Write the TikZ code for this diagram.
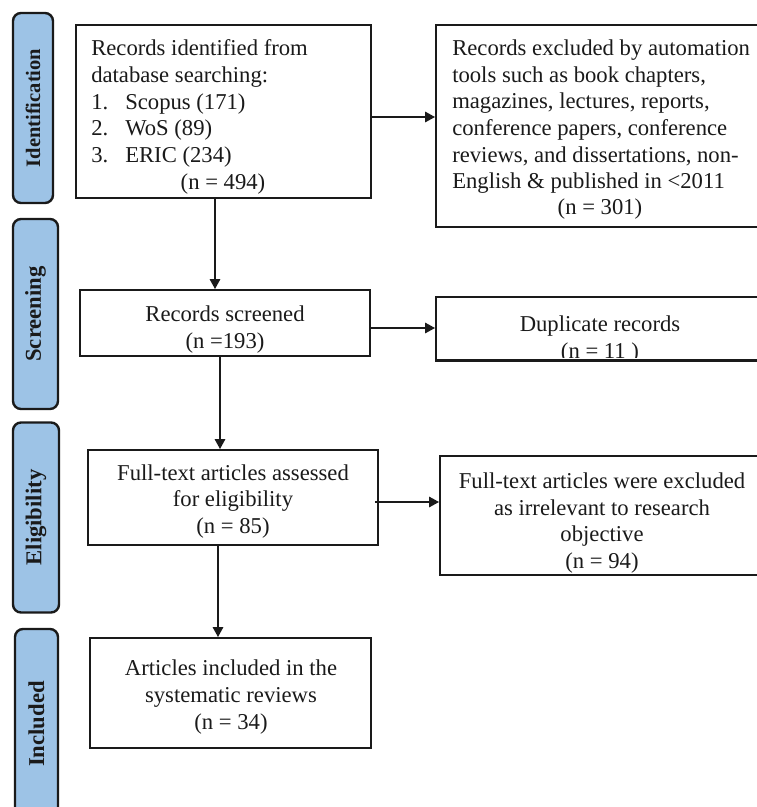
\documentclass[tikz,border=0pt]{standalone}
\usepackage{fontspec}
\setmainfont{Liberation Serif}
\usetikzlibrary{arrows.meta}
\definecolor{barblue}{HTML}{9DC3E6}
\definecolor{ink}{HTML}{1A1A1A}
\begin{document}
\begin{tikzpicture}[x=0.75pt,y=-0.75pt,
  box/.style={draw=ink, line width=1.5pt, fill=white, inner sep=0pt, rectangle},
  bar/.style={draw=ink, line width=1.8pt, fill=barblue, rounded corners=6pt,
     rotate=90, inner sep=0pt, font=\fontsize{17}{20}\selectfont\bfseries, text=ink},
  txt/.style={inner sep=0pt, font=\fontsize{17}{20}\selectfont, text=ink},
  arr/.style={draw=ink, line width=0.9pt, -{Triangle[length=7.5pt,width=8pt]}}
]
\useasboundingbox (0,0) rectangle (757,807);
\clip (0,0) rectangle (757,807);

% side bars (rotated: minimum width is vertical extent)
\node[bar, minimum width=190*0.75pt, minimum height=40*0.75pt] (s1) at (33,108)
  {\fontsize{15.4}{18}\selectfont\bfseries Identification};
\node[bar, minimum width=190*0.75pt, minimum height=45*0.75pt] (s2) at (35.5,314) {Screening};
\node[bar, minimum width=190*0.75pt, minimum height=46*0.75pt] (s3) at (36,517.5) {Eligibility};
\node[bar, minimum width=190*0.75pt, minimum height=43*0.75pt] (s4) at (36.5,724) {Included};

% boxes
\node[box, minimum width=295*0.75pt, minimum height=173*0.75pt] (b1) at (223.5,111.5) {};
\node[box, minimum width=328*0.75pt, minimum height=202*0.75pt] (b2) at (600,126) {};
\node[box, minimum width=290*0.75pt, minimum height=66*0.75pt] (b3) at (225,323) {};
\node[box, minimum width=328*0.75pt, minimum height=63*0.75pt] (b4) at (600,328.5) {};
\node[box, minimum width=290*0.75pt, minimum height=95*0.75pt] (b5) at (233,497.5) {};
\node[box, minimum width=324*0.75pt, minimum height=119*0.75pt] (b6) at (602,515.5) {};
\node[box, minimum width=281*0.75pt, minimum height=110*0.75pt] (b7) at (230.5,693) {};

% texts
\node[txt, anchor=north west, align=left] (t1) at (91,39.5)
  {Records identified from\\database searching:\\
   \makebox[25.5pt][l]{1.}Scopus (171)\\
   \makebox[25.5pt][l]{2.}WoS (89)\\
   \makebox[25.5pt][l]{3.}ERIC (234)};
\node[txt] (n1) at (223,184) {(n = 494)};

\node[txt, anchor=north west, align=left] (t2) at (452,39.5)
  {Records excluded by automation\\tools such as book chapters,\\
   magazines, lectures, reports,\\conference papers, conference\\
   reviews, and dissertations, non-\\English \& published in <2011};
\node[txt] (n2) at (600,209) {(n = 301)};

\node[txt, align=center] (t3) at (225,329.5) {Records screened\\(n =193)};

\begin{scope}
  \clip (b4.north west) rectangle ([yshift=3pt]b4.south east);
  \node[txt, align=center] (t4) at (600,339.5) {Duplicate records\\(n = 11 )};
\end{scope}
\draw[ink, line width=1.5pt] (b4.south west) -- (b4.south east);

\node[txt, align=center] (t5) at (233,501.5) {Full-text articles assessed\\for eligibility\\(n = 85)};
\node[txt, align=center] (t6) at (602,523) {Full-text articles were excluded\\as irrelevant to research\\objective\\(n = 94)};
\node[txt, align=center] (t7) at (231,697) {Articles included in the\\systematic reviews\\(n = 34)};

% connectors
\coordinate (a1) at ([xshift=-6.375pt]b1.south);
\draw[arr] (a1) -- (a1 |- b3.north);
\coordinate (a2) at ([xshift=-3.75pt]b3.south);
\draw[arr] (a2) -- (a2 |- b5.north);
\coordinate (a3) at ([xshift=-11.25pt]b5.south);
\draw[arr] (a3) -- (a3 |- b7.north);

\coordinate (h1) at ([yshift=-4.125pt]b1.east);
\draw[arr] (h1) -- (h1 -| b2.west);
\coordinate (h2) at ([yshift=-3.75pt]b3.east);
\draw[arr] (h2) -- (h2 -| b4.west);
\coordinate (h3) at ([yshift=-3.375pt,xshift=-3pt]b5.east);
\draw[arr] (h3) -- (h3 -| b6.west);
\end{tikzpicture}
\end{document}
